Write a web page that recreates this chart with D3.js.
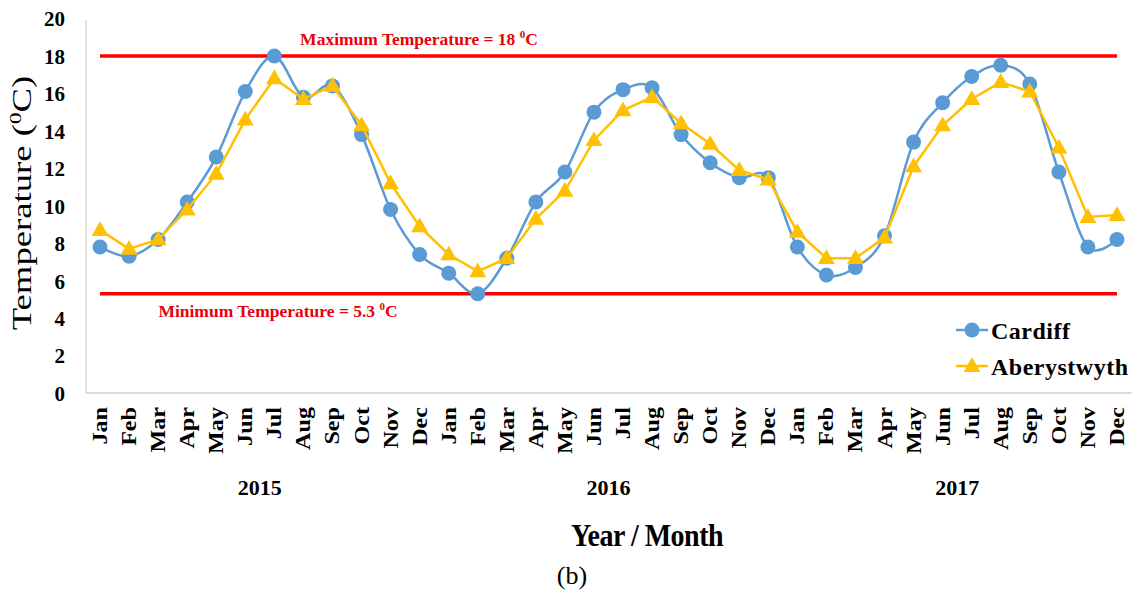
<!DOCTYPE html>
<html>
<head>
<meta charset="utf-8">
<script src="https://cdn.jsdelivr.net/npm/d3@7"></script>
<style>
  body { margin: 0; background: #fff; }
  svg text { font-family: "Liberation Serif", "Times New Roman", serif; }
</style>
</head>
<body>
<div id="chart"></div>
<script>
// monthly mean temperatures, Jan 2015 .. Dec 2017
const months = ["Jan", "Feb", "Mar", "Apr", "May", "Jun", "Jul", "Aug", "Sep", "Oct", "Nov", "Dec"];
const years = ["2015", "2016", "2017"];

const cardiff = [
  7.8, 7.3, 8.2, 10.2, 12.6, 16.1, 18.0, 15.8, 16.4, 13.8, 9.8, 7.4,
  6.4, 5.3, 7.2, 10.2, 11.8, 15.0, 16.2, 16.3, 13.8, 12.3, 11.5, 11.5,
  7.8, 6.3, 6.7, 8.4, 13.4, 15.5, 16.9, 17.5, 16.5, 11.8, 7.8, 8.2
];
const aberystwyth = [
  8.7, 7.7, 8.2, 9.8, 11.7, 14.6, 16.8, 15.7, 16.4, 14.3, 11.2, 8.9,
  7.4, 6.5, 7.2, 9.3, 10.8, 13.5, 15.1, 15.8, 14.4, 13.3, 11.9, 11.4,
  8.6, 7.2, 7.2, 8.3, 12.1, 14.3, 15.7, 16.6, 16.1, 13.1, 9.4, 9.5
];
const maxTemp = 18;
const minTemp = 5.3;
const yTicks = [0, 2, 4, 6, 8, 10, 12, 14, 16, 18, 20];

const width = 1133, height = 592;
const serif = "'Liberation Serif', 'Times New Roman', serif";

// one key per month of the series
const keys = [];
years.forEach(yr => months.forEach(m => keys.push(yr + "-" + m)));

const svg = d3.select("#chart").append("svg")
    .attr("width", width)
    .attr("height", height)
    .style("font-family", serif);

const x = d3.scaleBand().domain(keys).range([85.5, 1131.5]);
const y = d3.scaleLinear().domain([0, 20]).range([393, 18.5]);
const cx = k => x(k) + x.bandwidth() / 2;

// plot frame (left + bottom only)
svg.append("line")
    .attr("x1", 86).attr("x2", 86)
    .attr("y1", 20).attr("y2", y(0))
    .attr("stroke", "#d9d9d9").attr("stroke-width", 1.5);
svg.append("line")
    .attr("x1", 86).attr("x2", 1131.5)
    .attr("y1", y(0)).attr("y2", y(0))
    .attr("stroke", "#d9d9d9").attr("stroke-width", 2);

// y axis
const yAxis = svg.append("g")
    .attr("transform", "translate(86,0)")
    .call(d3.axisLeft(y).tickValues(yTicks).tickSize(0).tickPadding(21));
yAxis.attr("font-family", null).attr("font-size", null);
yAxis.select(".domain").remove();
yAxis.selectAll("text")
    .style("font-family", serif)
    .attr("font-weight", "bold")
    .attr("font-size", 21)
    .attr("fill", "#000")
    .attr("dy", "0.35em");

// x axis: month names rotated
const xAxis = svg.append("g")
    .attr("transform", "translate(0," + y(0) + ")")
    .call(d3.axisBottom(x).tickSize(0).tickFormat(k => k.split("-")[1]));
xAxis.attr("font-family", null).attr("font-size", null);
xAxis.select(".domain").remove();
xAxis.selectAll("text")
    .style("font-family", serif)
    .attr("font-weight", "bold")
    .attr("font-size", 21)
    .attr("fill", "#000")
    .attr("text-anchor", "end")
    .attr("x", 0).attr("y", 0).attr("dy", 0)
    .attr("transform", "translate(7,14) rotate(-90) scale(1.15,1)");

// year labels under each group of months
svg.append("g").selectAll("text")
    .data(years)
    .join("text")
    .attr("x", yr => (cx(yr + "-Jan") + cx(yr + "-Dec")) / 2)
    .attr("y", 495)
    .attr("text-anchor", "middle")
    .attr("font-weight", "bold")
    .attr("font-size", 22)
    .text(d => d);

// threshold lines
const limits = [
  {v: maxTemp, label: "Maximum Temperature = 18 ", lx: 419, ly: 45},
  {v: minTemp, label: "Minimum Temperature = 5.3 ", lx: 278, ly: 317}
];
svg.append("g").selectAll("line")
    .data(limits)
    .join("line")
    .attr("x1", cx(keys[0]))
    .attr("x2", cx(keys[keys.length - 1]))
    .attr("y1", d => y(d.v)).attr("y2", d => y(d.v))
    .attr("stroke", "#ff0000")
    .attr("stroke-width", 3.5);
const limitText = svg.append("g").selectAll("text")
    .data(limits)
    .join("text")
    .attr("x", d => d.lx).attr("y", d => d.ly)
    .attr("text-anchor", "middle")
    .attr("font-weight", "bold")
    .attr("font-size", 17.5)
    .attr("fill", "#e8000b");
limitText.append("tspan").text(d => d.label);
limitText.append("tspan").attr("font-size", 11).attr("dy", -7).text("0");
limitText.append("tspan").attr("dy", 7).text("C");

// series
const cardiffLine = d3.line()
    .x((d, i) => cx(keys[i]))
    .y(d => y(d))
    .curve(d3.curveCatmullRom.alpha(0));
const aberLine = d3.line()
    .x((d, i) => cx(keys[i]))
    .y(d => y(d));

svg.append("path")
    .datum(cardiff)
    .attr("d", cardiffLine)
    .attr("fill", "none")
    .attr("stroke", "#5b9bd5")
    .attr("stroke-width", 2.5);
svg.append("g").selectAll("circle")
    .data(cardiff)
    .join("circle")
    .attr("cx", (d, i) => cx(keys[i]))
    .attr("cy", d => y(d))
    .attr("r", 7.5)
    .attr("fill", "#5b9bd5");

svg.append("path")
    .datum(aberystwyth)
    .attr("d", aberLine)
    .attr("fill", "none")
    .attr("stroke", "#ffc000")
    .attr("stroke-width", 2.5);
const tri = d3.symbol().type(d3.symbolTriangle).size(125);
svg.append("g").selectAll("path")
    .data(aberystwyth)
    .join("path")
    .attr("d", tri)
    .attr("transform", (d, i) => "translate(" + cx(keys[i]) + "," + (y(d) + 1) + ")")
    .attr("fill", "#ffc000");

// legend
const legend = [
  {name: "Cardiff", color: "#5b9bd5", shape: "circle", y: 330},
  {name: "Aberystwyth", color: "#ffc000", shape: "triangle", y: 366}
];
const lg = svg.append("g").selectAll("g")
    .data(legend)
    .join("g")
    .attr("transform", d => "translate(0," + d.y + ")");
lg.append("line")
    .attr("x1", 956).attr("x2", 988)
    .attr("stroke", d => d.color)
    .attr("stroke-width", 2.5);
lg.filter(d => d.shape === "circle").append("circle")
    .attr("cx", 972).attr("r", 7.5)
    .attr("fill", d => d.color);
lg.filter(d => d.shape === "triangle").append("path")
    .attr("d", tri)
    .attr("transform", "translate(972,1)")
    .attr("fill", d => d.color);
lg.append("text")
    .attr("x", 991).attr("y", 9)
    .attr("font-weight", "bold")
    .attr("font-size", 24)
    .attr("letter-spacing", 0.5)
    .text(d => d.name);

// axis titles
const yTitle = svg.append("text")
    .attr("transform", "translate(31,203) rotate(-90) scale(1.36,1)")
    .attr("text-anchor", "middle")
    .attr("font-size", 27);
yTitle.append("tspan").text("Temperature (");
yTitle.append("tspan").attr("font-size", 17).attr("dy", -10).text("0");
yTitle.append("tspan").attr("dy", 10).text("C)");

svg.append("text")
    .attr("transform", "translate(647,546) scale(1,1.15)")
    .attr("text-anchor", "middle")
    .attr("font-weight", "bold")
    .attr("font-size", 28)
    .attr("letter-spacing", -0.5)
    .text("Year / Month");

svg.append("text")
    .attr("x", 572).attr("y", 584)
    .attr("text-anchor", "middle")
    .attr("font-size", 26)
    .text("(b)");
</script>
</body>
</html>
